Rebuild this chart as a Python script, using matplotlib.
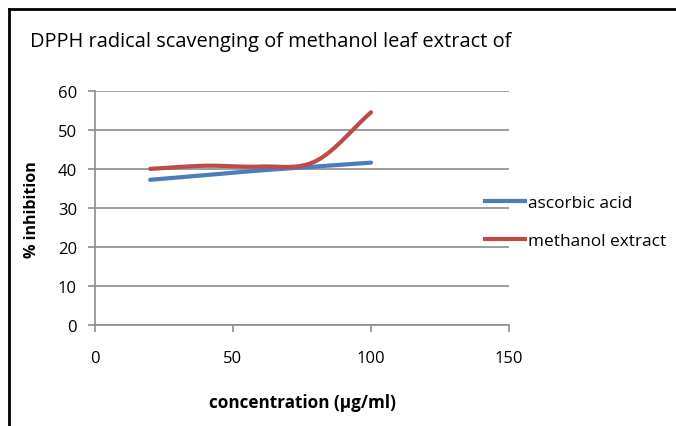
import numpy as np
import matplotlib
matplotlib.use("Agg")
import matplotlib.pyplot as plt
from matplotlib.lines import Line2D

# data
conc = [20, 40, 60, 80, 100]
ascorbic = [37.2, 38.4, 39.6, 40.6, 41.6]
methanol = [40.0, 40.8, 40.6, 42.0, 54.5]
x_ticks = [0, 50, 100, 150]
y_ticks = [0, 10, 20, 30, 40, 50, 60]

BLUE = "#4A7EBB"
RED = "#BE4B48"


def smooth(xs, ys, n=30):
    # Catmull-Rom spline through the points (like Excel's "smoothed line")
    p = np.column_stack([xs, ys]).astype(float)
    p = np.vstack([2 * p[0] - p[1], p, 2 * p[-1] - p[-2]])
    out = []
    t = np.linspace(0, 1, n)[:, None]
    for i in range(1, len(p) - 2):
        p0, p1, p2, p3 = p[i - 1], p[i], p[i + 1], p[i + 2]
        m1 = (p2 - p0) / 2
        m2 = (p3 - p1) / 2
        h00 = 2 * t**3 - 3 * t**2 + 1
        h10 = t**3 - 2 * t**2 + t
        h01 = -2 * t**3 + 3 * t**2
        h11 = t**3 - t**2
        out.append(h00 * p1 + h10 * m1 + h01 * p2 + h11 * m2)
    out = np.vstack(out)
    return out[:, 0], out[:, 1]


plt.rcParams.update({
    "font.family": ["Open Sans", "DejaVu Sans"],
    "font.size": 12,
})

fig = plt.figure(figsize=(6.76, 4.27), dpi=100)
ax = fig.add_axes([0.1405, 0.2365, 0.6125, 0.5485])

ax.plot(*smooth(conc, ascorbic), color=BLUE, linewidth=3, solid_capstyle="round")
ax.plot(*smooth(conc, methanol), color=RED, linewidth=3, solid_capstyle="round")

ax.set_xlim(0, 150)
ax.set_ylim(0, 60)
ax.set_xticks(x_ticks)
ax.set_yticks(y_ticks)
ax.yaxis.grid(True, color="#8c8c8c", linewidth=1.2)
ax.set_axisbelow(True)
for side in ["top", "right"]:
    ax.spines[side].set_visible(False)
for side in ["left", "bottom"]:
    ax.spines[side].set_color("#8c8c8c")
    ax.spines[side].set_linewidth(1.2)
ax.tick_params(axis="x", length=5, width=1.2, color="#8c8c8c", pad=13, labelsize=12)
ax.tick_params(axis="y", length=5, width=1.2, color="#8c8c8c", pad=8, labelsize=12)

fig.text(0.045, 0.902, "DPPH radical scavenging of methanol leaf extract of",
         fontsize=14.4, va="center", ha="left")
fig.text(0.047, 0.508, "% inhibition", rotation=90, fontsize=11.5,
         fontweight="bold", va="center", ha="center")
fig.text(0.448, 0.056, "concentration (\u00b5g/ml)", fontsize=12.3,
         fontweight="bold", va="center", ha="center")

handles = [Line2D([], [], color=BLUE, linewidth=3),
           Line2D([], [], color=RED, linewidth=3)]
fig.legend(handles, ["ascorbic acid", "methanol extract"],
           loc="center left", bbox_to_anchor=(0.695, 0.478), frameon=False,
           handlelength=2.3, handletextpad=0.15, labelspacing=1.3, fontsize=12.4)

# chart frame (top and left edges visible in the crop)
fig.add_artist(Line2D([0.013, 1.0], [0.977, 0.977], color="black", linewidth=2,
                      transform=fig.transFigure))
fig.add_artist(Line2D([0.013, 0.013], [0.0, 0.977], color="black", linewidth=2,
                      transform=fig.transFigure))

fig.savefig("out.png", dpi=100)
